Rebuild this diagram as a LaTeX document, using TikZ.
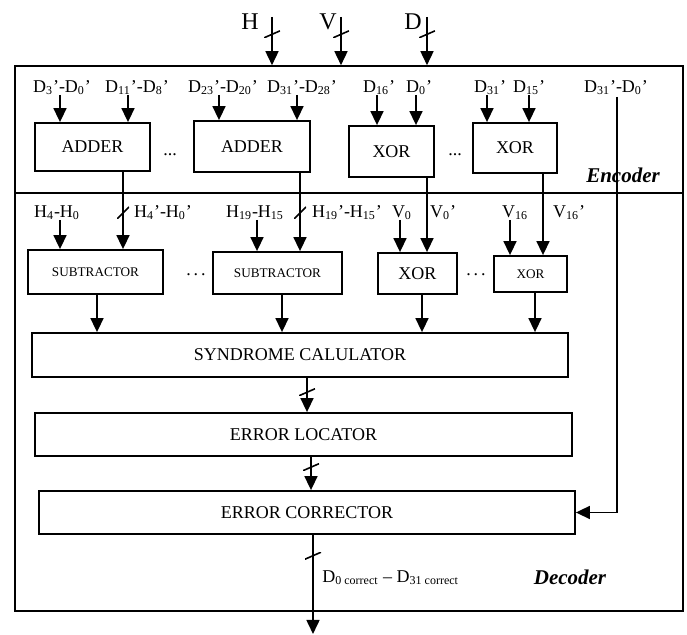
\documentclass[tikz,border=0pt]{standalone}
\usepackage{fontspec}
\setmainfont{Liberation Serif}
\usetikzlibrary{arrows.meta}
\newcommand{\idx}[1]{\textsubscript{#1}}
\tikzset{
  blk/.style={draw, line width=0.9pt, inner sep=0pt, font=\fontsize{9}{10}\selectfont},
  sblk/.style={blk, font=\fontsize{6.6}{7}\selectfont},
  lbl/.style={inner sep=0pt, font=\fontsize{9}{10}\selectfont},
  sig/.style={line width=0.8pt, -{Triangle[length=7pt,width=6.5pt]}},
  wire/.style={line width=0.8pt},
  busmark/.style={inner sep=0pt, minimum width=8pt, minimum height=3.5pt,
    path picture={\draw[arrows=-, line width=0.8pt] (path picture bounding box.south west) -- (path picture bounding box.north east);}},
  steepmark/.style={busmark, minimum width=6pt, minimum height=6pt},
}
\begin{document}
\begin{tikzpicture}[x=0.5pt, y=-0.5pt]
    \useasboundingbox (0,0) rectangle (687,635);
    % Outer frames: encoder on top, decoder below
    \node[draw, line width=0.8pt, inner sep=0pt, minimum width=334pt, minimum height=63.5pt] (enc) at (349,129.5) {};
    \node[draw, line width=0.8pt, inner sep=0pt, minimum width=334pt, minimum height=209pt] (dec) at (349,402) {};
    \node[inner sep=0pt, font=\fontsize{10.5}{12}\selectfont\bfseries\itshape] (enclbl) at (623,175) {Encoder};
    \node[inner sep=0pt, font=\fontsize{10.5}{12}\selectfont\bfseries\itshape] (declbl) at (570,577) {Decoder};
    % Inputs H, V, D
    \node[inner sep=0pt, font=\fontsize{12}{14}\selectfont] (hlbl) at (250,22) {H};
    \node[inner sep=0pt, font=\fontsize{12}{14}\selectfont] (vlbl) at (328,22) {V};
    \node[inner sep=0pt, font=\fontsize{12}{14}\selectfont] (dlbl) at (413,22) {D};
    \coordinate (htop) at (272,17);
    \coordinate (vtop) at (341,17);
    \coordinate (dtop) at (427,17);
    \draw[sig] (htop) -- node[busmark, pos=.36] {} (htop |- enc.north);
    \draw[sig] (vtop) -- node[busmark, pos=.36] {} (vtop |- enc.north);
    \draw[sig] (dtop) -- node[busmark, pos=.36] {} (dtop |- enc.north);

    % Encoder blocks
    \node[blk, minimum width=57.5pt, minimum height=24pt] (adder1) at (92.5,147) {ADDER};
    \node[blk, minimum width=58pt, minimum height=25.5pt] (adder2) at (252,146.5) {ADDER};
    \node[blk, minimum width=42.5pt, minimum height=25.5pt] (xor1) at (391.5,151.5) {XOR};
    \node[blk, minimum width=42pt, minimum height=25pt] (xor2) at (515,148) {XOR};
    \node[lbl] (encdots1) at (170,155) {...};
    \node[lbl] (encdots2) at (455,155) {...};
    % Encoder input labels
    \node[lbl] (la) at (62,88) {D\idx{3}'-D\idx{0}'};
    \node[lbl] (lb) at (137,88) {D\idx{11}'-D\idx{8}'};
    \node[lbl] (lc) at (223,88) {D\idx{23}'-D\idx{20}'};
    \node[lbl] (ld) at (302,88) {D\idx{31}'-D\idx{28}'};
    \node[lbl] (le) at (379,88) {D\idx{16}'};
    \node[lbl] (lf) at (419,88) {D\idx{0}'};
    \node[lbl] (lg) at (490,88) {D\idx{31}'};
    \node[lbl] (lh) at (529,88) {D\idx{15}'};
    \node[lbl] (li) at (616,88) {D\idx{31}'-D\idx{0}'};
    \coordinate (ina) at (60,95);
    \coordinate (inb) at (128,95);
    \coordinate (inc) at (219,95);
    \coordinate (ind) at (297,95);
    \coordinate (ine) at (377,95);
    \coordinate (inf) at (416,95);
    \coordinate (ing) at (487,95);
    \coordinate (inh) at (529,95);
    \coordinate (ini) at (617,97);
    \draw[sig] (ina) -- (ina |- adder1.north);
    \draw[sig] (inb) -- (inb |- adder1.north);
    \draw[sig] (inc) -- (inc |- adder2.north);
    \draw[sig] (ind) -- (ind |- adder2.north);
    \draw[sig] (ine) -- (ine |- xor1.north);
    \draw[sig] (inf) -- (inf |- xor1.north);
    \draw[sig] (ing) -- (ing |- xor2.north);
    \draw[sig] (inh) -- (inh |- xor2.north);

    % Decoder blocks
    \node[sblk, minimum width=67.5pt, minimum height=22pt] (sub1) at (95.5,272) {SUBTRACTOR};
    \node[sblk, minimum width=64.5pt, minimum height=21pt] (sub2) at (277.5,273) {SUBTRACTOR};
    \node[blk, minimum width=39.5pt, minimum height=20.5pt] (xor3) at (417.5,273.5) {XOR};
    \node[sblk, minimum width=36.5pt, minimum height=18pt] (xor4) at (530.5,274) {XOR};
    \node[lbl] (decdots1) at (196,275) {.\,.\,.};
    \node[lbl] (decdots2) at (476,275) {.\,.\,.};
    \node[blk, minimum width=268pt, minimum height=22pt] (syn) at (300,355) {SYNDROME CALULATOR};
    \node[blk, minimum width=268.5pt, minimum height=21.5pt] (loc) at (303.5,434.5) {ERROR LOCATOR};
    \node[blk, minimum width=268pt, minimum height=21.5pt] (cor) at (307,512.5) {ERROR CORRECTOR};
    % Decoder input labels
    \node[lbl] (lj) at (57,213) {H\idx{4}-H\idx{0}};
    \node[lbl] (lk) at (163,213) {H\idx{4}'-H\idx{0}'};
    \node[lbl] (ll) at (255,213) {H\idx{19}-H\idx{15}};
    \node[lbl] (lm) at (347,213) {H\idx{19}'-H\idx{15}'};
    \node[lbl] (ln) at (402,213) {V\idx{0}};
    \node[lbl] (lo) at (443,213) {V\idx{0}'};
    \node[lbl] (lp) at (515,213) {V\idx{16}};
    \node[lbl] (lq) at (569,213) {V\idx{16}'};
    \coordinate (inj) at (60,220);
    \coordinate (inl) at (257,220);
    \coordinate (inn) at (400,220);
    \coordinate (inp) at (510,220);
    \draw[sig] (inj) -- (inj |- sub1.north);
    \draw[sig] (inl) -- (inl |- sub2.north);
    \draw[sig] (inn) -- (inn |- xor3.north);
    \draw[sig] (inp) -- (inp |- xor4.north);
    % Encoder outputs into decoder
    \coordinate (hk) at (123,213);
    \coordinate (hm) at (300,213);
    \coordinate (vo) at (427,213);
    \coordinate (vq) at (543,213);
    \draw[sig] (adder1.south -| hk) -- (hk) node[steepmark] {} -- (sub1.north -| hk);
    \draw[sig] (adder2.south -| hm) -- (hm) node[steepmark] {} -- (sub2.north -| hm);
    \draw[sig] (xor1.south -| vo) -- (xor3.north -| vo);
    \draw[sig] (xor2.south -| vq) -- (xor4.north -| vq);
    % Into the syndrome calculator
    \coordinate (s1) at (97,0);
    \coordinate (s2) at (282,0);
    \coordinate (s3) at (422,0);
    \coordinate (s4) at (535,0);
    \draw[sig] (sub1.south -| s1) -- (syn.north -| s1);
    \draw[sig] (sub2.south -| s2) -- (syn.north -| s2);
    \draw[sig] (xor3.south -| s3) -- (syn.north -| s3);
    \draw[sig] (xor4.south -| s4) -- (syn.north -| s4);
    % Chain down to the corrector
    \coordinate (c1) at (307,0);
    \coordinate (c2) at (311,0);
    \draw[sig] (syn.south -| c1) -- node[busmark, pos=.42] {} (loc.north -| c1);
    \draw[sig] (loc.south -| c2) -- node[busmark, pos=.31] {} (cor.north -| c2);
    \draw[sig] (ini) |- (cor.east);
    % Corrected output
    \coordinate (out) at (313,634);
    \draw[sig] (cor.south -| out) -- node[busmark, pos=.21] {} (out);
    \node[lbl, anchor=west] (dcor) at (322,578) {D\idx{0 correct} – D\idx{31 correct}};
\end{tikzpicture}
\end{document}
